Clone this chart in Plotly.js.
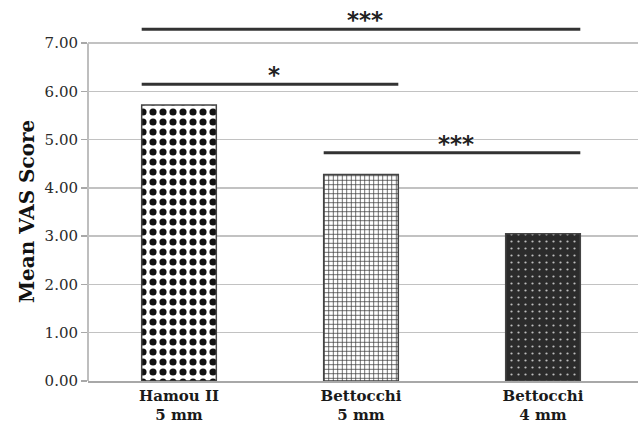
<!DOCTYPE html>
<html>
<head>
<meta charset="utf-8">
<script src="https://cdn.plot.ly/plotly-3.0.1.min.js"></script>
<style>html,body{margin:0;padding:0;background:#fff;}#chart{width:638px;height:429px;}</style>
</head>
<body>
<div id="chart"></div>
<script>
// ---- data ----
const categories = ["Hamou II<br>5 mm", "Bettocchi<br>5 mm", "Bettocchi<br>4 mm"];
const meanVAS = [5.72, 4.28, 3.05];
const yTickVals = [0, 1, 2, 3, 4, 5, 6, 7];
const yTickText = ["0.00", "1.00", "2.00", "3.00", "4.00", "5.00", "6.00", "7.00"];
// significance comparisons (category indices, bracket height, label)
const compFrom = [0, 0, 1];
const compTo = [2, 1, 2];
const compHeight = [7.29, 6.15, 4.73];
const compLabel = ["***", "*", "***"];
const yTitle = "Mean VAS Score";

// ---- styling ----
const barWidth = 0.41;
const patterns = [
  {shape: ".", fgcolor: "#111", bgcolor: "#fff", size: 10, solidity: 0.4, fillmode: "replace"},
  {shape: "+", fgcolor: "#3a3a3a", bgcolor: "#fff", size: 4.5, solidity: 0.3, fillmode: "replace"},
  {shape: ".", fgcolor: "#bdbdbd", bgcolor: "#2b2b2b", size: 7, solidity: 0.08, fillmode: "replace"}
];

const traces = categories.map((c, i) => ({
  type: "bar",
  x: [i],
  y: [meanVAS[i]],
  width: barWidth,
  marker: {color: "#fff", pattern: patterns[i], line: {color: "#444", width: 1.5}},
  hoverinfo: "skip",
  showlegend: false
}));

const shapes = [];
const annotations = [];
compFrom.forEach((f, k) => {
  const x0 = f - barWidth / 2, x1 = compTo[k] + barWidth / 2;
  shapes.push({type: "line", xref: "x", yref: "y", x0: x0, x1: x1, y0: compHeight[k], y1: compHeight[k],
    line: {color: "#333", width: 3}, layer: "above"});
  annotations.push({xref: "x", yref: "y", x: (f + compTo[k]) / 2 + 0.02, y: compHeight[k], text: "<b>" + compLabel[k] + "</b>",
    showarrow: false, yanchor: "bottom", yshift: -6,
    font: {family: "DejaVu Sans", size: 23, color: "#222"}});
});
// y axis title centred on the 0-7 axis
annotations.push({xref: "paper", yref: "y", x: 0, y: 3.5, xshift: -61, xanchor: "center", yanchor: "middle",
  textangle: -90, showarrow: false, text: "<b>" + yTitle + "</b>",
  font: {family: "DejaVu Serif", size: 20, color: "#111"}});
// left axis line from 0 to 7
shapes.push({type: "line", xref: "paper", yref: "y", x0: 0, x1: 0, y0: 0, y1: 7,
  line: {color: "#a8a8a8", width: 1.5}, layer: "below"});

const layout = {
  width: 638, height: 429,
  margin: {l: 88, r: 0, t: 7, b: 48},
  paper_bgcolor: "#fff", plot_bgcolor: "#fff",
  bargap: 0,
  xaxis: {
    range: [-0.5, 2.522],
    tickvals: [0, 1, 2], ticktext: categories,
    showgrid: false, zeroline: false,
    showline: true, linecolor: "#a8a8a8", linewidth: 1.5,
    ticks: "",
    tickfont: {family: "DejaVu Serif", size: 15, color: "#1a1a1a", weight: "bold"},
    fixedrange: true
  },
  yaxis: {
    range: [0, 7.75],
    tickvals: yTickVals, ticktext: yTickText,
    showgrid: true, gridcolor: "#c2c2c2", gridwidth: 1.5,
    zeroline: false, showline: false,
    ticks: "outside", ticklen: 6, tickcolor: "#a8a8a8", tickwidth: 1.5,
    tickfont: {family: "DejaVu Serif", size: 15, color: "#2a2a2a"},
    fixedrange: true
  },
  shapes: shapes,
  annotations: annotations
};

Plotly.newPlot("chart", traces, layout, {displayModeBar: false, staticPlot: true});
</script>
</body>
</html>
